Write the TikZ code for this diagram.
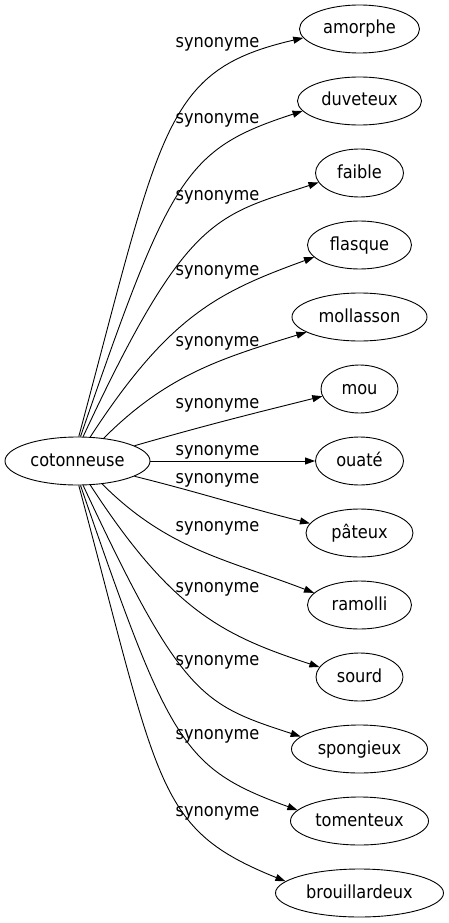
\documentclass[tikz,border=0pt]{standalone}
\usepackage{fontspec}
\setmainfont{DejaVu Sans Condensed}
\usepackage{tikz}
\usetikzlibrary{arrows.meta, shapes.geometric}

\tikzset{
  word/.style={draw, ellipse, line width=0.9pt, minimum height=48pt, inner sep=0pt,
    text height=13pt, text depth=3pt, font=\fontsize{18}{20}\selectfont},
  rel/.style={inner sep=0pt, text height=13pt, text depth=3pt, font=\fontsize{18}{20}\selectfont},
  syn/.style={-{Triangle[length=10pt, width=7pt]}, line width=0.9pt},
  bent/.style={out looseness=1.8, in looseness=0.8},
  halfbent/.style={out looseness=1.3, in looseness=0.9}
}

\begin{document}
\begin{tikzpicture}[x=1pt, y=1pt]
  \useasboundingbox (0,0) rectangle (449,-923);
  \node[word, minimum width=145pt] (cotonneuse) at (77.5, -461) {cotonneuse};
  \node[word, minimum width=120pt] (amorphe) at (359.5, -29) {amorphe};
  \node[word, minimum width=124pt] (duveteux) at (359.5, -101) {duveteux};
  \node[word, minimum width=88pt] (faible) at (359.5, -173) {faible};
  \node[word, minimum width=104pt] (flasque) at (359.5, -245) {flasque};
  \node[word, minimum width=135pt] (mollasson) at (359.5, -317) {mollasson};
  \node[word, minimum width=77pt] (mou) at (359.5, -389) {mou};
  \node[word, minimum width=88pt] (ouate) at (359.5, -461) {ouaté};
  \node[word, minimum width=107pt] (pateux) at (359.5, -533) {pâteux};
  \node[word, minimum width=104pt] (ramolli) at (359.5, -605) {ramolli};
  \node[word, minimum width=87pt] (sourd) at (359.5, -677) {sourd};
  \node[word, minimum width=136pt] (spongieux) at (359.5, -749) {spongieux};
  \node[word, minimum width=138pt] (tomenteux) at (359.5, -821) {tomenteux};
  \node[word, minimum width=168pt] (brouillardeux) at (359.5, -893) {brouillardeux};
  \node[rel] (s1) at (217.5, -42.7) {synonyme};
  \node[rel] (s2) at (217.5, -118.3) {synonyme};
  \node[rel] (s3) at (217.5, -195) {synonyme};
  \node[rel] (s4) at (217.5, -270) {synonyme};
  \node[rel] (s5) at (217.5, -341.7) {synonyme};
  \node[rel] (s6) at (217.5, -403.3) {synonyme};
  \node[rel] (s7) at (217.5, -450) {synonyme};
  \node[rel] (s8) at (217.5, -478) {synonyme};
  \node[rel] (s9) at (217.5, -526) {synonyme};
  \node[rel] (s10) at (217.5, -587.3) {synonyme};
  \node[rel] (s11) at (217.5, -660) {synonyme};
  \node[rel] (s12) at (217.5, -734) {synonyme};
  \node[rel] (s13) at (217.5, -811) {synonyme};
  \draw
  (cotonneuse.87) edge[syn, bent, out=75, in=193] (amorphe.189)
  (cotonneuse.83) edge[syn, bent, out=71, in=198] (duveteux.190)
  (cotonneuse.77) edge[syn, bent, out=65, in=198] (faible.193)
  (cotonneuse.62) edge[syn, halfbent, out=57, in=200] (flasque.195)
  (cotonneuse.41) edge[syn, out=45, in=197] (mollasson.196)
  (cotonneuse.15) edge[syn, out=16, in=194] (mou.191)
  (cotonneuse) edge[syn] (ouate)
  (cotonneuse.-15) edge[syn, out=-14, in=166] (pateux.169)
  (cotonneuse.-43) edge[syn, out=-45, in=159] (ramolli.165)
  (cotonneuse.-62) edge[syn, halfbent, out=-57, in=162] (sourd.166)
  (cotonneuse.-77) edge[syn, bent, out=-65, in=162] (spongieux.168)
  (cotonneuse.-83) edge[syn, bent, out=-71, in=160] (tomenteux.170)
  (cotonneuse.-87) edge[syn, bent, out=-75, in=158] (brouillardeux.171);
\end{tikzpicture}
\end{document}
